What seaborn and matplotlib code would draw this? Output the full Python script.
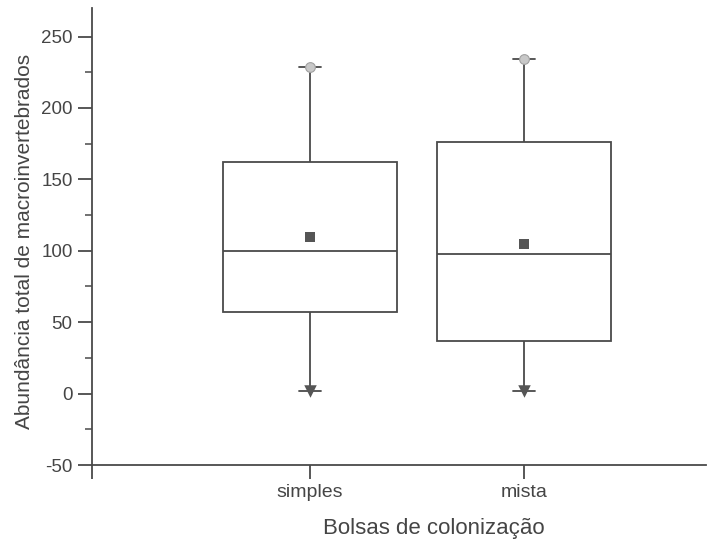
import matplotlib
matplotlib.use("Agg")
import matplotlib.pyplot as plt
import seaborn as sns
import pandas as pd
import numpy as np
from matplotlib.ticker import MultipleLocator

# ---- data ----
categories = ["simples", "mista"]
minimum = [2, 2]
q1 = [57, 37]
median = [100, 97.5]
q3 = [162, 176]
maximum = [229, 234]
mean = [110, 104.5]

xlabel = "Bolsas de colonização"
ylabel = "Abundância total de macroinvertebrados"

# five-number summary per category -> exact quartiles with whis=(0, 100)
rows = []
for i, c in enumerate(categories):
    for v in (minimum[i], q1[i], median[i], q3[i], maximum[i]):
        rows.append({"grupo": c, "valor": v})
box_df = pd.DataFrame(rows)

sns.set_style("ticks")
plt.rcParams["font.family"] = ["Liberation Sans", "DejaVu Sans"]
plt.rcParams["axes.unicode_minus"] = False

line_col = "#4a4a4a"
text_col = "#454545"

fig = plt.figure(figsize=(7.08, 5.42), dpi=100)
ax = fig.add_axes([92 / 708, 1 - 465 / 542, (706 - 92) / 708, (465 - 8) / 542])

sns.boxplot(data=box_df, x="grupo", y="valor", order=categories, whis=(0, 100),
            width=0.81, color="white", linecolor=line_col, linewidth=1.3,
            fliersize=0, capwidths=0.1, ax=ax)

sns.stripplot(x=categories, y=mean, order=categories, jitter=False, marker="s",
              size=6.5, color="#555555", linewidth=0, zorder=5, ax=ax)
sns.stripplot(x=categories, y=maximum, order=categories, jitter=False, marker="o",
              size=7, color="#c8c8c8", edgecolor="#a0a0a0", linewidth=0.8,
              zorder=5, ax=ax)
sns.stripplot(x=categories, y=minimum, order=categories, jitter=False, marker="v",
              size=9, color="#555555", linewidth=0, zorder=5, ax=ax)

xl = (-1.019, 1.85)
ax.set_xticks([xl[0], 0, 1])
ax.set_xticklabels(["", categories[0], categories[1]])
ax.set_xlim(*xl)
ax.set_ylim(-50, 270)
ax.set_yticks(np.arange(-50, 251, 50))
ax.yaxis.set_minor_locator(MultipleLocator(25))

for s in ("top", "right"):
    ax.spines[s].set_visible(False)
for s in ("left", "bottom"):
    ax.spines[s].set_color(line_col)
    ax.spines[s].set_linewidth(1.3)

ax.tick_params(axis="both", which="major", length=10, width=1.3, color=line_col,
               labelcolor=text_col, pad=4)
ax.tick_params(axis="y", which="major", labelsize=13.5)
ax.tick_params(axis="x", which="major", labelsize=14)
ax.tick_params(axis="y", which="minor", length=5, width=1.1, color=line_col)

ax.set_xlabel(xlabel, fontsize=16, color=text_col)
ax.set_ylabel(ylabel, fontsize=15, color=text_col)
ax.xaxis.set_label_coords((434 - 92) / (706 - 92), -0.115)
ax.yaxis.set_label_coords(-0.095, 0.49)

fig.savefig("out.png", dpi=100, facecolor="white")
